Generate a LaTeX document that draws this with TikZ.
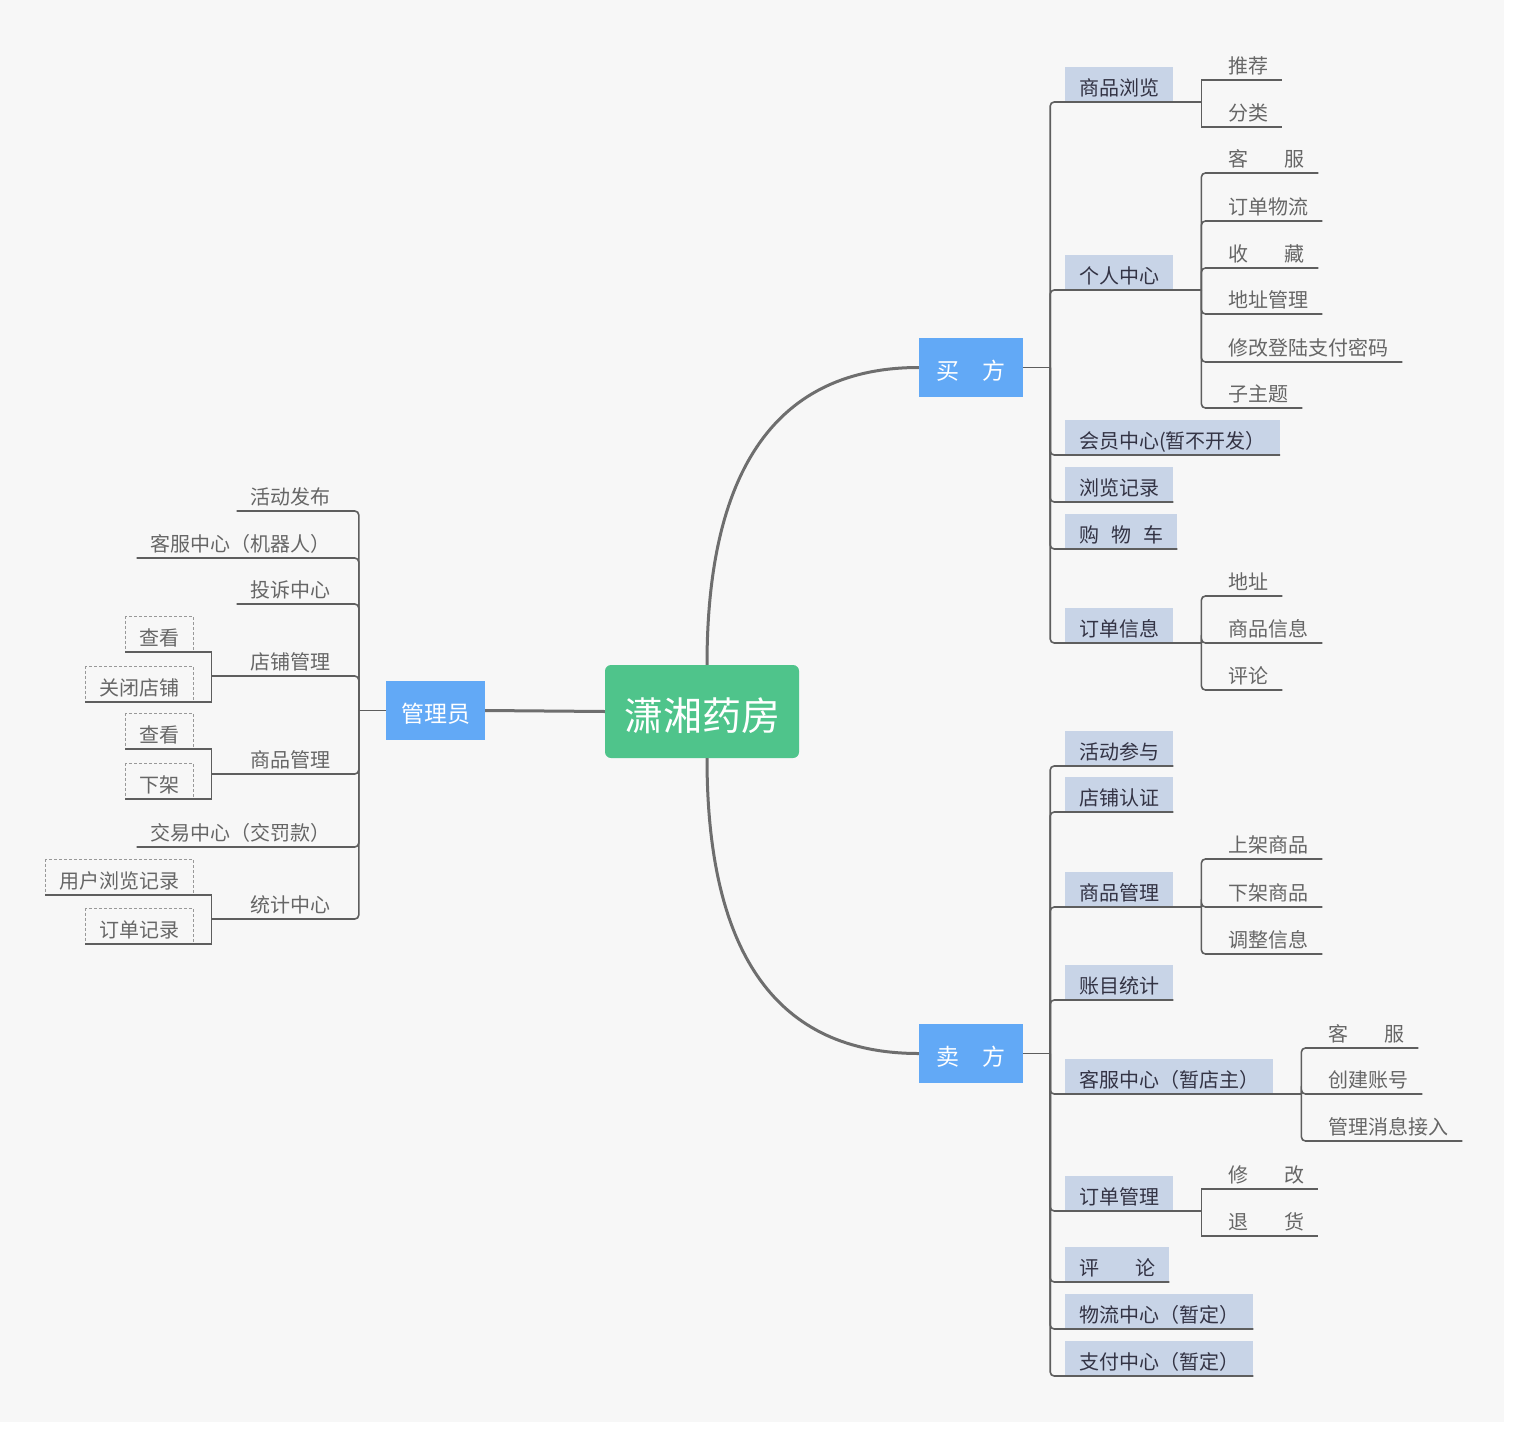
\documentclass[tikz,border=0pt]{standalone}
\usepackage{fontspec}
\setmainfont{Noto Sans CJK SC}
\usepackage{tikz}
\usetikzlibrary{positioning}

\definecolor{bggray}{HTML}{F7F7F7}
\definecolor{rootgreen}{HTML}{4FC48B}
\definecolor{mainblue}{HTML}{62A9F6}
\definecolor{topicblue}{HTML}{C8D4E7}
\definecolor{linegray}{HTML}{5E5E5E}
\definecolor{textdark}{HTML}{333344}
\definecolor{textgray}{HTML}{666666}

\begin{document}
\begin{tikzpicture}[x=1pt, y=-1pt,
                rootnode/.style={fill=rootgreen, rounded corners=6pt, text=white, inner sep=0pt, minimum width=194pt, minimum height=93pt, text height=41pt, text depth=3pt, font=\fontsize{39}{46}\selectfont},
                mainbox/.style={fill=mainblue, text=white, inner sep=0pt, minimum height=59pt, text height=24pt, text depth=1pt, font=\fontsize{23}{28}\selectfont},
                topic/.style={inner xsep=14pt, inner ysep=5.5pt, text height=23pt, text depth=1pt, font=\fontsize{20}{24}\selectfont},
                boxtopic/.style={topic, fill=topicblue, text=textdark},
                subtopic/.style={topic, text=textgray},
                dashtopic/.style={topic, text=textgray, draw=gray!80, line width=0.8pt, dash pattern=on 3pt off 2pt},
                link/.style={draw=linegray, line width=1.6pt},
                rootlink/.style={draw=linegray!90, line width=3pt}]
                \useasboundingbox (0,0) rectangle (1514,1431);
                \fill[white] (0,0) rectangle (1514,1431);
                \fill[bggray] (0,0) rectangle (1504,1422);

                \node[rootnode] (center) at (702,711.5) {潇湘药房};
                \node[mainbox, minimum width=99pt] (admin) at (435.5,710.5) {管理员};
                \node[mainbox, minimum width=104pt] (buyer) at (971,367.5) {买　方};
                \node[mainbox, minimum width=104pt] (seller) at (971,1053.5) {卖　方};

                \coordinate (ctop) at ([xshift=5pt]center.north);
                \coordinate (cbot) at ([xshift=5pt]center.south);
                \draw[rootlink] (center.west) -- (admin.east);
                \draw[rootlink] (ctop) .. controls ([yshift=197pt]ctop) and ([xshift=-141pt]buyer.west) .. (buyer.west);
                \draw[rootlink] (cbot) .. controls ([yshift=-197pt]cbot) and ([xshift=-141pt]seller.west) .. (seller.west);

                \node[boxtopic, anchor=south west] (b1) at (1065,102) {商品浏览};
                \node[boxtopic, anchor=south west] (b2) at (1065,290) {个人中心};
                \node[boxtopic, anchor=south west] (b3) at (1065,455) {会员中心(暂不开发）};
                \node[boxtopic, anchor=south west] (b4) at (1065,502) {浏览记录};
                \node[boxtopic, anchor=south west] (b5) at (1065,549) {购\hspace{0.6em}物\hspace{0.6em}车};
                \node[boxtopic, anchor=south west] (b6) at (1065,643) {订单信息};

                \node[subtopic, anchor=south west] (b11) at (1214,80) {推荐};
                \node[subtopic, anchor=south west] (b12) at (1214,127) {分类};
                \node[subtopic, anchor=south west] (b21) at (1214,173) {客\hspace{1.8em}服};
                \node[subtopic, anchor=south west] (b22) at (1214,221) {订单物流};
                \node[subtopic, anchor=south west] (b23) at (1214,268) {收\hspace{1.8em}藏};
                \node[subtopic, anchor=south west] (b24) at (1214,314) {地址管理};
                \node[subtopic, anchor=south west] (b25) at (1214,362) {修改登陆支付密码};
                \node[subtopic, anchor=south west] (b26) at (1214,408) {子主题};
                \node[subtopic, anchor=south west] (b61) at (1214,596) {地址};
                \node[subtopic, anchor=south west] (b62) at (1214,643) {商品信息};
                \node[subtopic, anchor=south west] (b63) at (1214,690) {评论};

                \coordinate (bj) at ([xshift=27pt]buyer.east);
                \coordinate (b1j) at ([xshift=28pt]b1.south east);
                \coordinate (b2j) at ([xshift=28pt]b2.south east);
                \coordinate (b6j) at ([xshift=28pt]b6.south east);

                \draw[link] (buyer.east) -- (bj);
                \foreach \t in {b1,b2,b3,b4,b5,b6}
                    \draw[link, rounded corners=4pt] (bj) |- (\t.south east);
                \draw[link] (b1.south east) -- (b1j);
                \draw[link] (b2.south east) -- (b2j);
                \draw[link] (b6.south east) -- (b6j);
                \foreach \t in {b11,b12}
                    \draw[link] (b1j) |- (\t.south east);
                \foreach \t in {b21,b22,b23,b24,b25,b26}
                    \draw[link, rounded corners=4pt] (b2j) |- (\t.south east);
                \foreach \t in {b61,b62,b63}
                    \draw[link, rounded corners=4pt] (b6j) |- (\t.south east);

                \node[boxtopic, anchor=south west] (s1) at (1065,766) {活动参与};
                \node[boxtopic, anchor=south west] (s2) at (1065,812) {店铺认证};
                \node[boxtopic, anchor=south west] (s3) at (1065,907) {商品管理};
                \node[boxtopic, anchor=south west] (s4) at (1065,1000) {账目统计};
                \node[boxtopic, anchor=south west] (s5) at (1065,1094) {客服中心（暂店主）};
                \node[boxtopic, anchor=south west] (s6) at (1065,1211) {订单管理};
                \node[boxtopic, anchor=south west] (s7) at (1065,1282) {评\hspace{1.8em}论};
                \node[boxtopic, anchor=south west] (s8) at (1065,1329) {物流中心（暂定）};
                \node[boxtopic, anchor=south west] (s9) at (1065,1376) {支付中心（暂定）};

                \node[subtopic, anchor=south west] (s31) at (1214,859) {上架商品};
                \node[subtopic, anchor=south west] (s32) at (1214,907) {下架商品};
                \node[subtopic, anchor=south west] (s33) at (1214,954) {调整信息};
                \node[subtopic, anchor=south west] (s51) at (1314,1048) {客\hspace{1.8em}服};
                \node[subtopic, anchor=south west] (s52) at (1314,1094) {创建账号};
                \node[subtopic, anchor=south west] (s53) at (1314,1141) {管理消息接入};
                \node[subtopic, anchor=south west] (s61) at (1214,1189) {修\hspace{1.8em}改};
                \node[subtopic, anchor=south west] (s62) at (1214,1236) {退\hspace{1.8em}货};

                \coordinate (sj) at ([xshift=27pt]seller.east);
                \coordinate (s3j) at ([xshift=28pt]s3.south east);
                \coordinate (s5j) at ([xshift=28pt]s5.south east);
                \coordinate (s6j) at ([xshift=28pt]s6.south east);

                \draw[link] (seller.east) -- (sj);
                \foreach \t in {s1,s2,s3,s4,s5,s6,s7,s8,s9}
                    \draw[link, rounded corners=4pt] (sj) |- (\t.south east);
                \draw[link] (s3.south east) -- (s3j);
                \draw[link] (s5.south east) -- (s5j);
                \draw[link] (s6.south east) -- (s6j);
                \foreach \t in {s31,s32,s33}
                    \draw[link, rounded corners=4pt] (s3j) |- (\t.south east);
                \foreach \t in {s51,s52,s53}
                    \draw[link, rounded corners=4pt] (s5j) |- (\t.south east);
                \foreach \t in {s61,s62}
                    \draw[link] (s6j) |- (\t.south east);

                \node[subtopic, anchor=south east] (a1) at (345,511) {活动发布};
                \node[subtopic, anchor=south east] (a2) at (345,558) {客服中心（机器人）};
                \node[subtopic, anchor=south east] (a3) at (345,604) {投诉中心};
                \node[subtopic, anchor=south east] (a4) at (345,676) {店铺管理};
                \node[subtopic, anchor=south east] (a5) at (345,774) {商品管理};
                \node[subtopic, anchor=south east] (a6) at (345,847) {交易中心（交罚款）};
                \node[subtopic, anchor=south east] (a7) at (345,919) {统计中心};

                \node[dashtopic, anchor=south east] (a41) at (194,652) {查看};
                \node[dashtopic, anchor=south east] (a42) at (194,702) {关闭店铺};
                \node[dashtopic, anchor=south east] (a51) at (194,749) {查看};
                \node[dashtopic, anchor=south east] (a52) at (194,799) {下架};
                \node[dashtopic, anchor=south east] (a71) at (194,895) {用户浏览记录};
                \node[dashtopic, anchor=south east] (a72) at (194,944) {订单记录};

                \coordinate (aj) at ([xshift=-27pt]admin.west);
                \coordinate (a4j) at ([xshift=-25pt]a4.south west);
                \coordinate (a5j) at ([xshift=-25pt]a5.south west);
                \coordinate (a7j) at ([xshift=-25pt]a7.south west);

                \draw[link] (admin.west) -- (aj);
                \foreach \t in {a1,a2,a3,a4,a5,a6,a7}
                    \draw[link, rounded corners=4pt] (aj) |- (\t.south west);
                \draw[link] (a4.south west) -- (a4j);
                \draw[link] (a5.south west) -- (a5j);
                \draw[link] (a7.south west) -- (a7j);
                \foreach \t in {a41,a42}
                    \draw[link] (a4j) |- (\t.south west);
                \foreach \t in {a51,a52}
                    \draw[link] (a5j) |- (\t.south west);
                \foreach \t in {a71,a72}
                    \draw[link] (a7j) |- (\t.south west);
\end{tikzpicture}
\end{document}
